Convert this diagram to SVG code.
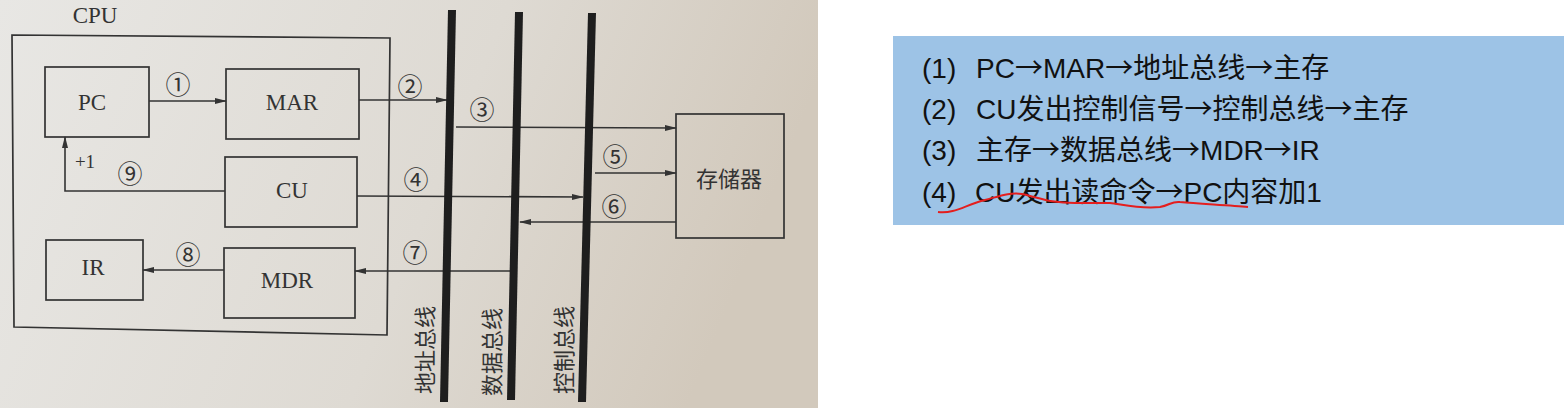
<svg xmlns="http://www.w3.org/2000/svg" width="1564" height="408" viewBox="0 0 1564 408">
  <defs>
    <linearGradient id="paper" x1="0" y1="0" x2="1" y2="0.2">
      <stop offset="0" stop-color="#e8e7e4"/>
      <stop offset="0.6" stop-color="#dedad3"/>
      <stop offset="1" stop-color="#d2c9bc"/>
    </linearGradient>
    <marker id="ah" markerWidth="12" markerHeight="8" refX="11" refY="4" orient="auto" markerUnits="userSpaceOnUse">
      <path d="M0,1 L12,4 L0,7 Z" fill="#333"/>
    </marker>
    <style>
      .box { fill: none; stroke: #333; stroke-width: 1.7; }
      .arr { fill: none; stroke: #333; stroke-width: 1.6; marker-end: url(#ah); }
      .bus { stroke: #1e1e1e; stroke-width: 8; stroke-linecap: butt; }
      .lbl { font-family: "Liberation Serif", "DejaVu Serif", serif; font-size: 23px; fill: #333; text-anchor: middle; }
      .num { font-family: "Noto Sans CJK SC", "DejaVu Sans", sans-serif; font-size: 25px; fill: #333; text-anchor: middle; }
      .cjk { font-family: "Noto Sans CJK SC", sans-serif; font-size: 22px; fill: #333; text-anchor: middle; }
      .note { font-family: "Liberation Sans", "Noto Sans CJK SC", sans-serif; font-size: 28px; fill: #111; }
      .ar { font-family: "Noto Sans CJK SC", sans-serif; }
    </style>
  </defs>

  <!-- photo background -->
  <rect x="0" y="0" width="818" height="408" fill="url(#paper)"/>
  <rect x="818" y="0" width="746" height="408" fill="#ffffff"/>

  <!-- CPU -->
  <g id="cpu">
    <polygon class="box" points="12,35 390,38 387,335 14,327"/>
    <text class="lbl" x="95" y="23">CPU</text>
  </g>

  <g id="pc">
    <rect class="box" x="45" y="67" width="104" height="70"/>
    <text class="lbl" x="92" y="110">PC</text>
  </g>
  <g id="mar">
    <rect class="box" x="226" y="69" width="133" height="70"/>
    <text class="lbl" x="292" y="110">MAR</text>
  </g>
  <g id="cu">
    <rect class="box" x="225" y="157" width="132" height="70"/>
    <text class="lbl" x="292" y="198">CU</text>
  </g>
  <g id="ir">
    <rect class="box" x="46" y="240" width="97" height="60"/>
    <text class="lbl" x="93" y="275">IR</text>
  </g>
  <g id="mdr">
    <rect class="box" x="224" y="248" width="131" height="70"/>
    <text class="lbl" x="287" y="288">MDR</text>
  </g>
  <g id="memory">
    <rect class="box" x="676" y="114" width="108" height="124"/>
    <text class="cjk" x="729" y="187">存储器</text>
  </g>

  <!-- connectors -->
  <g id="connectors">
    <line class="arr" x1="149" y1="101" x2="226" y2="101"/>
    <line class="arr" x1="359" y1="100" x2="447" y2="100"/>
    <line class="arr" x1="456" y1="127" x2="676" y2="128"/>
    <line class="arr" x1="357" y1="196" x2="583" y2="197"/>
    <line class="arr" x1="595" y1="173" x2="676" y2="173"/>
    <line class="arr" x1="676" y1="222" x2="520" y2="222"/>
    <line class="arr" x1="510" y1="271" x2="355" y2="271"/>
    <line class="arr" x1="224" y1="270" x2="143" y2="270"/>
    <polyline class="arr" points="225,191 65,191 65,137"/>
  </g>

  <!-- buses -->
  <g id="address-bus">
    <line class="bus" x1="452" y1="10" x2="444" y2="402"/>
    <text class="cjk" transform="translate(433,350) rotate(-90)">地址总线</text>
  </g>
  <g id="data-bus">
    <line class="bus" x1="519" y1="12" x2="511" y2="400"/>
    <text class="cjk" transform="translate(500,352) rotate(-90)">数据总线</text>
  </g>
  <g id="control-bus">
    <line class="bus" x1="592" y1="13" x2="582" y2="402"/>
    <text class="cjk" transform="translate(572,350) rotate(-90)">控制总线</text>
  </g>

  <!-- step labels -->
  <g id="labels">
    <text class="num" x="178" y="94">①</text>
    <text class="num" x="410" y="96">②</text>
    <text class="num" x="482" y="119">③</text>
    <text class="num" x="416" y="189">④</text>
    <text class="num" x="615" y="166">⑤</text>
    <text class="num" x="614" y="216">⑥</text>
    <text class="num" x="415" y="262">⑦</text>
    <text class="num" x="188" y="264">⑧</text>
    <text class="num" x="130" y="183">⑨</text>
    <text class="lbl" x="85" y="168" style="font-size:19px">+1</text>
  </g>

  <!-- notes panel -->
  <g id="notes">
    <rect x="893" y="36" width="671" height="189" fill="#9dc3e6"/>
    <text class="note" y="78"><tspan x="922">(1)</tspan><tspan x="976">PC</tspan><tspan class="ar">→</tspan>MAR<tspan class="ar">→</tspan>地址总线<tspan class="ar">→</tspan>主存</text>
    <text class="note" y="119"><tspan x="922">(2)</tspan><tspan x="976">CU发出控制信号</tspan><tspan class="ar">→</tspan>控制总线<tspan class="ar">→</tspan>主存</text>
    <text class="note" y="160"><tspan x="922">(3)</tspan><tspan x="976">主存</tspan><tspan class="ar">→</tspan>数据总线<tspan class="ar">→</tspan>MDR<tspan class="ar">→</tspan>IR</text>
    <text class="note" y="202"><tspan x="922">(4)</tspan><tspan x="975">CU发出读命令</tspan><tspan class="ar">→</tspan>PC内容加1</text>
    <path d="M938,212 C955,214 965,205 985,200 C1000,196 1010,192 1022,194 C1040,198 1050,203 1075,203 L1110,203 C1125,205 1140,209 1160,207 C1170,205 1172,201 1180,202 C1200,204 1230,205 1248,207" fill="none" stroke="#e41e1e" stroke-width="2"/>
  </g>
</svg>
